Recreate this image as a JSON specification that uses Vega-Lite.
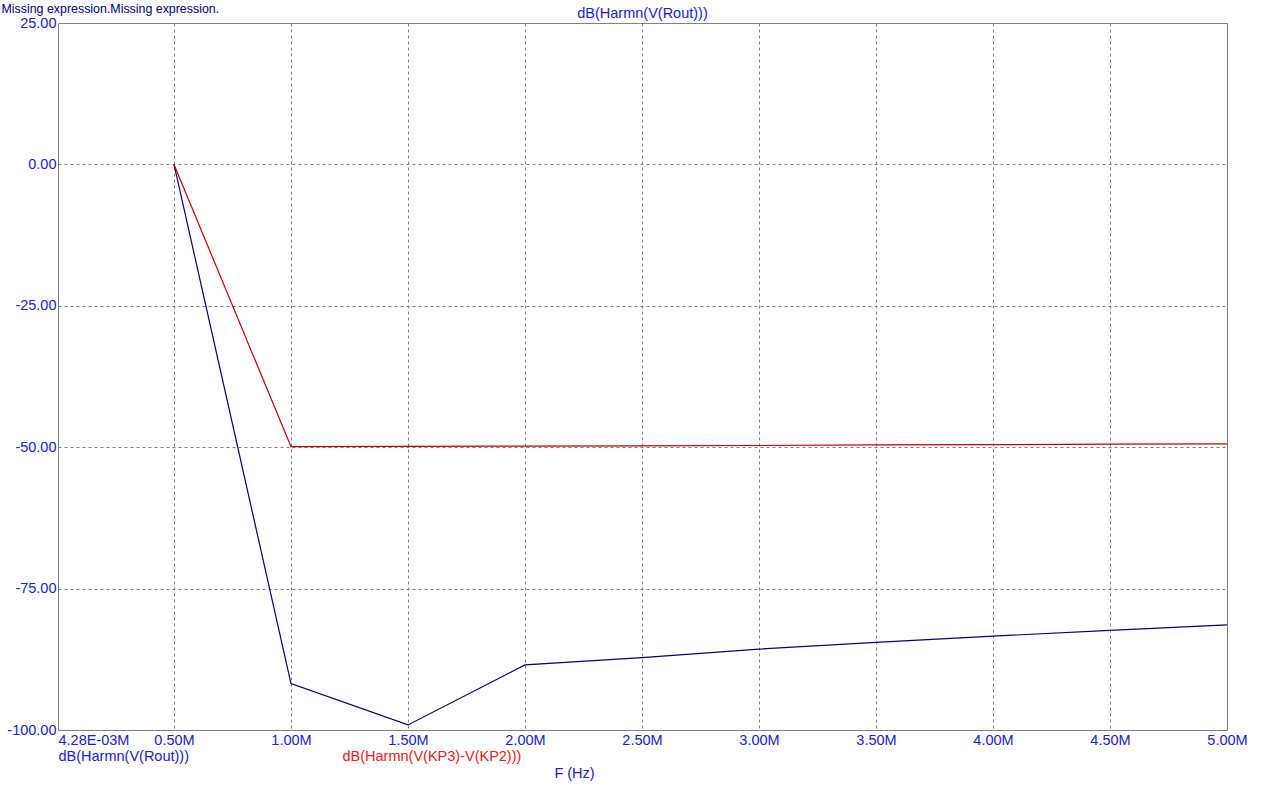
{
  "$schema": "https://vega.github.io/schema/vega-lite/v6.json",
  "width": 1169,
  "height": 707,
  "autosize": "none",
  "padding": {"left": 58, "top": 23, "right": 40, "bottom": 66},
  "background": "white",
  "config": {
    "font": "Liberation Sans",
    "view": {"stroke": "#808080", "strokeWidth": 1}
  },
  "title": {
    "text": "dB(Harmn(V(Rout)))",
    "anchor": "middle",
    "frame": "group",
    "fontSize": 14.5,
    "fontWeight": "normal",
    "color": "#2020d0",
    "font": "Liberation Sans",
    "offset": 2,
    "dy": 21
  },
  "data": {
    "values": [
      {"f": 0.5, "db": 0, "series": "dB(Harmn(V(Rout)))"},
      {"f": 1.0, "db": -91.8, "series": "dB(Harmn(V(Rout)))"},
      {"f": 1.5, "db": -99.1, "series": "dB(Harmn(V(Rout)))"},
      {"f": 2.0, "db": -88.5, "series": "dB(Harmn(V(Rout)))"},
      {"f": 2.5, "db": -87.2, "series": "dB(Harmn(V(Rout)))"},
      {"f": 3.0, "db": -85.7, "series": "dB(Harmn(V(Rout)))"},
      {"f": 3.5, "db": -84.5, "series": "dB(Harmn(V(Rout)))"},
      {"f": 4.0, "db": -83.4, "series": "dB(Harmn(V(Rout)))"},
      {"f": 4.5, "db": -82.4, "series": "dB(Harmn(V(Rout)))"},
      {"f": 5.0, "db": -81.4, "series": "dB(Harmn(V(Rout)))"},
      {"f": 0.5, "db": 0, "series": "dB(Harmn(V(KP3)-V(KP2)))"},
      {"f": 1.0, "db": -49.9, "series": "dB(Harmn(V(KP3)-V(KP2)))"},
      {"f": 1.5, "db": -49.85, "series": "dB(Harmn(V(KP3)-V(KP2)))"},
      {"f": 2.0, "db": -49.8, "series": "dB(Harmn(V(KP3)-V(KP2)))"},
      {"f": 2.5, "db": -49.75, "series": "dB(Harmn(V(KP3)-V(KP2)))"},
      {"f": 3.0, "db": -49.7, "series": "dB(Harmn(V(KP3)-V(KP2)))"},
      {"f": 3.5, "db": -49.6, "series": "dB(Harmn(V(KP3)-V(KP2)))"},
      {"f": 4.0, "db": -49.55, "series": "dB(Harmn(V(KP3)-V(KP2)))"},
      {"f": 4.5, "db": -49.45, "series": "dB(Harmn(V(KP3)-V(KP2)))"},
      {"f": 5.0, "db": -49.4, "series": "dB(Harmn(V(KP3)-V(KP2)))"}
    ]
  },
  "mark": {"type": "line", "strokeWidth": 1.2, "interpolate": "linear"},
  "encoding": {
    "x": {
      "field": "f",
      "type": "quantitative",
      "scale": {"domain": [0.00428, 5], "nice": false, "zero": false},
      "axis": {
        "values": [0.00428, 0.5, 1, 1.5, 2, 2.5, 3, 3.5, 4, 4.5, 5],
        "labelExpr": "datum.value < 0.1 ? '4.28E-03M' : format(datum.value, '.2f') + 'M'",
        "labelAlign": {"condition": {"test": "datum.value < 0.1", "value": "left"}, "value": "center"},
        "labelColor": "#2020d0",
        "labelFontSize": 14.5,
        "labelFont": "Liberation Sans",
        "labelPadding": 3,
        "labelOverlap": false,
        "labelBound": false,
        "labelFlush": false,
        "ticks": false,
        "domain": false,
        "grid": true,
        "gridColor": {"condition": {"test": "datum.value < 0.1 || datum.value > 4.99", "value": "transparent"}, "value": "#808080"},
        "gridDash": [3, 3],
        "gridWidth": 1,
        "title": "F (Hz)",
        "titleColor": "#2020d0",
        "titleFontSize": 14.5,
        "titleFontWeight": "normal",
        "titleFont": "Liberation Sans",
        "titleX": 516,
        "titleY": 43,
        "titleAlign": "center",
        "titleBaseline": "middle"
      }
    },
    "y": {
      "field": "db",
      "type": "quantitative",
      "scale": {"domain": [-100, 25], "nice": false, "zero": false},
      "axis": {
        "values": [25, 0, -25, -50, -75, -100],
        "labelExpr": "replace(format(datum.value, '.2f'), '\u2212', '-')",
        "labelColor": "#2020d0",
        "labelFontSize": 14.5,
        "labelFont": "Liberation Sans",
        "labelPadding": 2,
        "labelOverlap": false,
        "labelBound": false,
        "labelFlush": false,
        "ticks": false,
        "domain": false,
        "grid": true,
        "gridColor": {"condition": {"test": "datum.value > 24 || datum.value < -99", "value": "transparent"}, "value": "#808080"},
        "gridDash": [3, 3],
        "gridWidth": 1,
        "title": "Missing expression.Missing expression.",
        "titleColor": "#000080",
        "titleFontSize": 12.4,
        "titleFontWeight": "normal",
        "titleFont": "Liberation Sans",
        "titleAngle": 0,
        "titleAlign": "left",
        "titleBaseline": "middle",
        "titleX": -57,
        "titleY": -15
      }
    },
    "color": {
      "field": "series",
      "type": "nominal",
      "scale": {
        "domain": ["dB(Harmn(V(Rout)))", "dB(Harmn(V(KP3)-V(KP2)))"],
        "range": ["#00007f", "#c00000"]
      },
      "legend": {
        "orient": "none",
        "legendX": -14,
        "legendY": 727,
        "direction": "horizontal",
        "columns": 2,
        "columnPadding": 138,
        "padding": 0,
        "title": null,
        "symbolSize": 0,
        "symbolStrokeWidth": 0,
        "symbolOpacity": 0,
        "labelOffset": 0,
        "labelFontSize": 14.5,
        "labelFont": "Liberation Sans",
        "labelLimit": 400,
        "encode": {
          "labels": {
            "update": {
              "fill": {"signal": "datum.value == 'dB(Harmn(V(Rout)))' ? '#2020d0' : '#e82020'"}
            }
          }
        }
      }
    }
  }
}
